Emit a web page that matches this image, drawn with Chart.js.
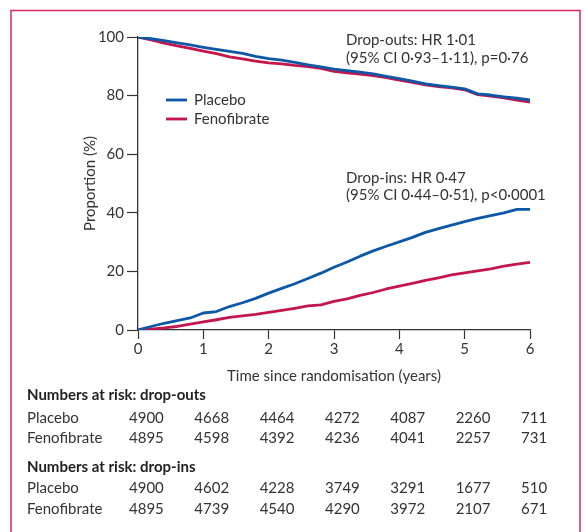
<!DOCTYPE html>
<html><head><meta charset="utf-8">
<script src="https://cdn.jsdelivr.net/npm/chart.js@4/dist/chart.umd.min.js"></script>
<style>html,body{margin:0;padding:0;background:#fff;}canvas{display:block;}</style>
</head><body>
<canvas id="c" width="585" height="532"></canvas>
<script>
// ---- Data ----
const years = [0,0.2,0.4,0.6,0.8,1.0,1.2,1.4,1.6,1.8,2.0,2.2,2.4,2.6,2.8,3.0,3.2,3.4,3.6,3.8,4.0,4.2,4.4,4.6,4.8,5.0,5.2,5.4,5.6,5.8,6.0];
const dropOutPlacebo = [100,99.4,98.8,98.0,97.3,96.5,95.8,95.1,94.4,93.4,92.6,92.1,91.3,90.5,89.8,89.0,88.5,88.0,87.4,86.6,85.8,84.9,84.0,83.4,82.9,82.3,80.6,80.2,79.6,79.1,78.5];
const dropOutFenofibrate = [100,99.0,97.9,97.0,96.1,95.2,94.3,93.2,92.5,91.8,91.2,90.8,90.3,89.9,89.3,88.3,87.8,87.3,86.8,86.1,85.3,84.5,83.7,83.1,82.6,82.0,80.3,79.8,79.2,78.5,77.8];
const dropInPlacebo = [0,1.2,2.3,3.2,4.1,5.8,6.3,8.0,9.3,10.8,12.6,14.2,15.8,17.6,19.4,21.4,23.2,25.2,27.0,28.6,30.1,31.6,33.3,34.6,35.8,37.0,38.1,39.0,40.0,41.2,41.2];
const dropInFenofibrate = [0,0.3,0.7,1.2,2.0,2.8,3.5,4.3,4.8,5.3,6.0,6.7,7.4,8.2,8.6,9.8,10.6,11.8,12.8,14.0,15.0,15.9,16.9,17.8,18.8,19.5,20.2,20.9,21.8,22.5,23.1];

const riskYears = [0,1,2,3,4,5,6];
const riskDropOutPlacebo = [4900,4668,4464,4272,4087,2260,711];
const riskDropOutFenofibrate = [4895,4598,4392,4236,4041,2257,731];
const riskDropInPlacebo = [4900,4602,4228,3749,3291,1677,510];
const riskDropInFenofibrate = [4895,4739,4540,4290,3972,2107,671];

const seriesNames = ['Placebo','Fenofibrate'];
const yTicks = [0,20,40,60,80,100];
const xTitle = 'Time since randomisation (years)';
const yTitle = 'Proportion (%)';
const noteDropOuts = ['Drop-outs: HR 1·01','(95% CI 0·93–1·11), p=0·76'];
const noteDropIns = ['Drop-ins: HR 0·47','(95% CI 0·44–0·51), p<0·0001'];
const tableHeads = ['Numbers at risk: drop-outs','Numbers at risk: drop-ins'];

// ---- Style ----
const BLUE = '#0d58a6';
const RED = '#c3164c';
const TXT = '#333333';
const FONT = 'Lato, "Open Sans", sans-serif';

const pts = arr => years.map((t,i)=>({x:t,y:arr[i]}));

const overlay = {
  id:'overlay',
  afterDraw(chart){
    const ctx = chart.ctx;
    const xs = chart.scales.x;
    const ca = chart.chartArea;
    ctx.save();
    // panel border
    ctx.strokeStyle = '#d4285c';
    ctx.lineWidth = 1.5;
    ctx.beginPath();
    ctx.moveTo(11,540); ctx.lineTo(11,10.5); ctx.lineTo(580,10.5); ctx.lineTo(580,540);
    ctx.stroke();

    ctx.fillStyle = TXT;
    ctx.font = '15px ' + FONT;
    ctx.textBaseline = 'middle';
    // axis titles
    ctx.textAlign = 'center';
    ctx.fillText(xTitle, (ca.left+ca.right)/2, 376);
    ctx.save();
    ctx.translate(90, (ca.top+ca.bottom)/2);
    ctx.rotate(-Math.PI/2);
    ctx.fillText(yTitle, 0, 0);
    ctx.restore();

    // annotations
    ctx.textAlign = 'left';
    ctx.fillText(noteDropOuts[0], 346, 40);
    ctx.fillText(noteDropOuts[1], 346, 58);
    ctx.fillText(noteDropIns[0], 346, 178);
    ctx.fillText(noteDropIns[1], 346, 195);

    // legend
    const legY = [100,119];
    const legCol = [BLUE, RED];
    for (let i=0;i<2;i++){
      ctx.strokeStyle = legCol[i];
      ctx.lineWidth = 2.8;
      ctx.beginPath(); ctx.moveTo(166, legY[i]); ctx.lineTo(187, legY[i]); ctx.stroke();
      ctx.fillStyle = TXT;
      ctx.fillText(seriesNames[i], 194, legY[i]);
    }

    // numbers at risk tables
    const tables = [
      {head: tableHeads[0], hy: 395, rows: [riskDropOutPlacebo, riskDropOutFenofibrate], ry: [418, 438]},
      {head: tableHeads[1], hy: 467, rows: [riskDropInPlacebo, riskDropInFenofibrate], ry: [488, 509]}
    ];
    tables.forEach(tb => {
      ctx.font = 'bold 15px ' + FONT;
      ctx.textAlign = 'left';
      ctx.fillStyle = '#222';
      ctx.fillText(tb.head, 27, tb.hy);
      ctx.fillStyle = TXT;
      ctx.font = '15px ' + FONT;
      tb.rows.forEach((row, r) => {
        ctx.textAlign = 'left';
        ctx.fillText(seriesNames[r], 27, tb.ry[r]);
        row.forEach((v, k) => {
          ctx.fillText(String(v), xs.getPixelForValue(riskYears[k]) - 9, tb.ry[r]);
        });
      });
    });
    ctx.restore();
  }
};

const lineDs = (label, arr, color) => ({label, data:pts(arr), borderColor:color, borderWidth:2.8, pointRadius:0, fill:false, tension:0, borderJoinStyle:'round'});

new Chart(document.getElementById('c'), {
  type:'line',
  data:{
    datasets:[
      lineDs('Placebo drop-outs', dropOutPlacebo, BLUE),
      lineDs('Fenofibrate drop-outs', dropOutFenofibrate, RED),
      lineDs('Placebo drop-ins', dropInPlacebo, BLUE),
      lineDs('Fenofibrate drop-ins', dropInFenofibrate, RED)
    ]
  },
  options:{
    responsive:false,
    devicePixelRatio:1,
    animation:false,
    layout:{padding:{left:0,top:37,right:55,bottom:0}},
    plugins:{legend:{display:false},tooltip:{enabled:false},title:{display:false}},
    scales:{
      x:{
        type:'linear', min:0, max:6,
        afterFit(s){ s.height = 202; },
        afterBuildTicks(s){ s.ticks = riskYears.map(v=>({value:v})); },
        border:{display:true,color:'#333',width:1.3},
        grid:{drawOnChartArea:false,drawTicks:true,tickLength:9,color:'#333',tickWidth:1.2},
        ticks:{color:TXT,font:{family:FONT,size:15},padding:1,maxRotation:0}
      },
      y:{
        type:'linear', min:0, max:100,
        afterFit(s){ s.width = 138; },
        afterBuildTicks(s){ s.ticks = yTicks.map(v=>({value:v})); },
        border:{display:true,color:'#333',width:1.3},
        grid:{drawOnChartArea:false,drawTicks:true,tickLength:11,color:'#333',tickWidth:1.2},
        ticks:{color:TXT,font:{family:FONT,size:15},padding:3}
      }
    }
  },
  plugins:[overlay]
});
</script>
</body></html>
